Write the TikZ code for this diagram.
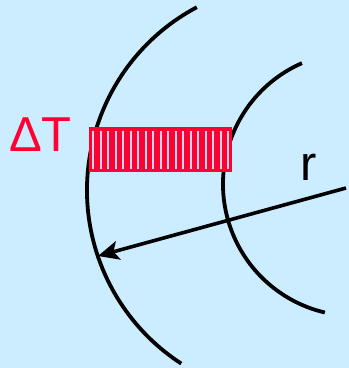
\documentclass[tikz,border=0pt]{standalone}
\usepackage{fontspec}
\setmainfont{Liberation Sans}
\usetikzlibrary{arrows.meta}
\definecolor{skyback}{RGB}{204,236,255}
\definecolor{slabred}{RGB}{255,0,51}
\definecolor{slabgap}{RGB}{205,215,238}

\begin{document}
\begin{tikzpicture}[
    x=1pt, y=1pt,
    every node/.style={font=\fontsize{49}{50}\selectfont, inner sep=0pt},
    arcline/.style={line width=3.8pt},
    radius arrow/.style={line width=3.6pt, -{Stealth[length=21pt, width=19pt, inset=5pt]}}
]

% canvas
\fill[skyback] (0,0) rectangle (349,368);
\useasboundingbox (0,0) rectangle (349,368);

% circle centres and radii (pt)
\def\ox{294}
\def\oy{178}
\def\orad{207}
\def\ix{355}
\def\iy{184}
\def\irad{132}

% outer and inner arcs
\draw[arcline] (\ox,\oy) ++(118:\orad) arc[start angle=118, end angle=237, radius=\orad];
\draw[arcline] (\ix,\iy) ++(113.7:\irad) arc[start angle=113.7, end angle=256.8, radius=\irad];

% hatched slab
\fill[slabred] (89,196) rectangle (232,241);
\foreach \k in {0,...,18}
  \fill[slabgap] ({92.3+7.5*\k},199) rectangle ++(2.2,38);

% labels
\node[text=slabred, anchor=base west] (dT) at (9,216) {ΔT};
\node[anchor=base west] (r) at (300,188) {r};

% radius arrow
\coordinate (rtail) at (346,180);
\coordinate (rhead) at (98,112);
\draw[radius arrow] (rtail) -- (rhead);

\end{tikzpicture}
\end{document}
